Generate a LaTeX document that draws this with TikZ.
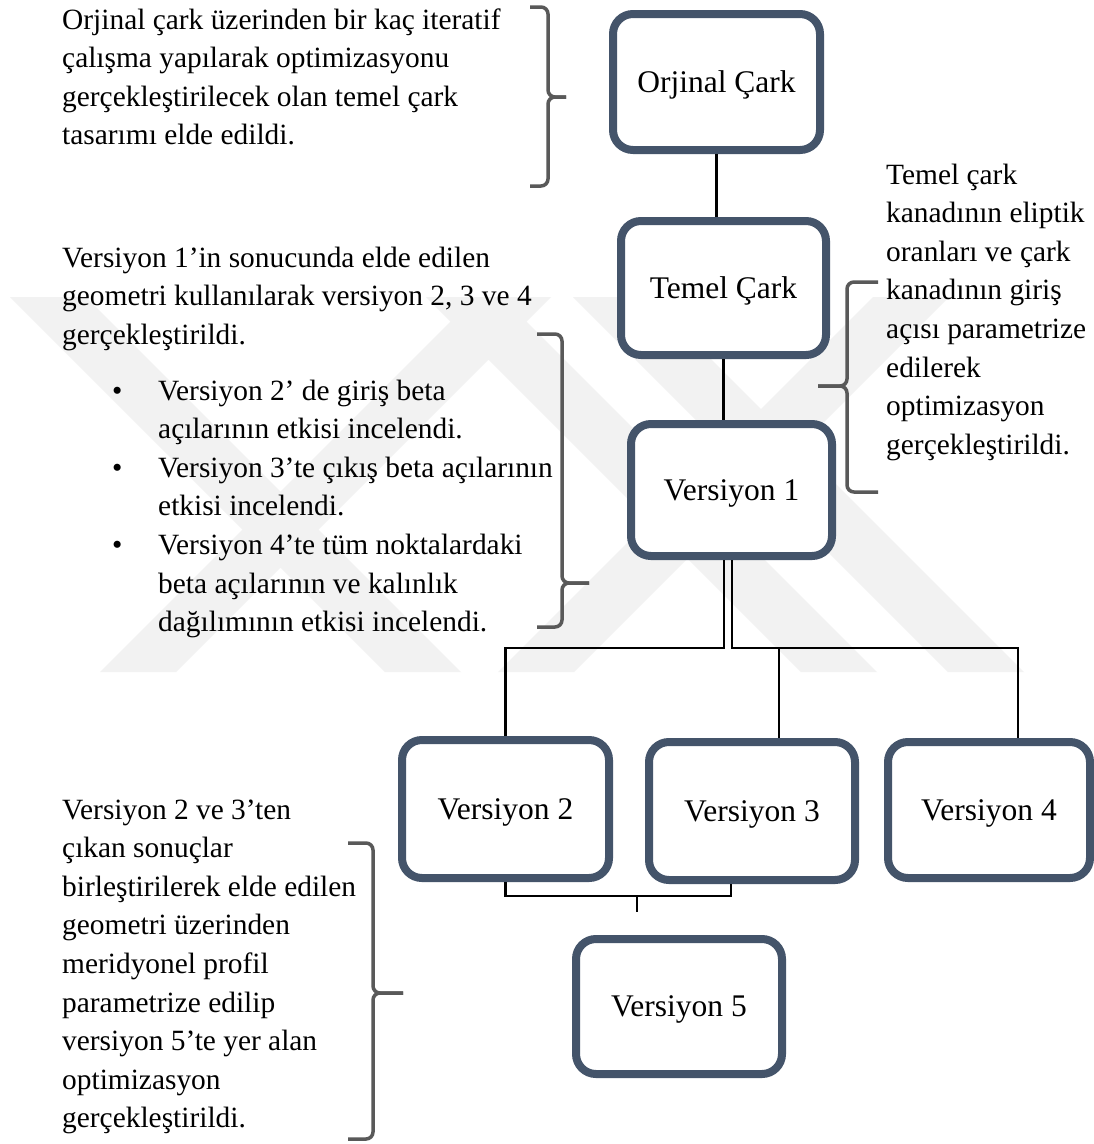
\documentclass[tikz,border=0pt]{standalone}
\usepackage{fontspec}
\setmainfont{Liberation Serif}
\usepackage{tikz}
\usetikzlibrary{positioning}
\definecolor{boxblue}{HTML}{44546A}
\definecolor{bracegray}{HTML}{595959}
\newcommand*{\bul}{\makebox[46pt][l]{\textbullet}}
\newcommand*{\cont}{\hspace*{46pt}}
\newcommand*{\curly}[6]{%
    \draw [brace] (#1,#4) -- (#2,#4) -- (#2,#5) -- (#3,#5);
    \draw [brace] (#1,#6) -- (#2,#6) -- (#2,#5) -- (#3,#5);}
\tikzstyle{block} = [draw=boxblue, line width=8pt, rectangle, rounded corners=20pt, fill=white, inner sep=0pt, text height=26pt, text depth=6pt, font=\fontsize{31.5}{36}\selectfont]
\tikzstyle{note} = [inner sep=0pt, align=left, anchor=base west, font=\fontsize{29.4}{38.6}\selectfont]
\tikzstyle{link} = [line width=2.4pt]
\tikzstyle{thin link} = [line width=1.2pt]
\tikzstyle{brace} = [draw=bracegray, line width=3.5pt, rounded corners=7pt]
\tikzstyle{watermark} = [fill=black!5]

\begin{document}
\begin{tikzpicture}[x=1pt, y=-1pt]
    \useasboundingbox (0,0) rectangle (1094,1144);
    \fill [white] (0,0) rectangle (1094,1144);

    % Watermark.
    \foreach \t in {10,426,573}
        \fill [watermark] (\t,297) -- ++(76,0) -- ++(375,375) -- ++(-76,0) -- cycle;
    \foreach \b in {100,498}
        \fill [watermark] (\b,672) -- ++(76,0) -- ++(375,-375) -- ++(-76,0) -- cycle;

    % Boxes.
    \node (orig) [block, minimum width=207pt, minimum height=136pt] at (716.5,82) {Orjinal Çark};
    \node (temel) [block, minimum width=205pt, minimum height=134pt] at (723.5,288) {Temel Çark};
    \node (v1) [block, minimum width=201pt, minimum height=132pt] at (731.5,490) {Versiyon 1};
    \node (v2) [block, minimum width=207pt, minimum height=138pt] at (505.5,809) {Versiyon 2};
    \node (v3) [block, minimum width=206pt, minimum height=138pt] at (752,811) {Versiyon 3};
    \node (v4) [block, minimum width=202pt, minimum height=136pt] at (989,810) {Versiyon 4};
    \node (v5) [block, minimum width=206pt, minimum height=135pt] at (679,1006.5) {Versiyon 5};

    \coordinate (split l) at (724,648);
    \coordinate (split r) at (732,648);
    \coordinate (v3 in) at (779,648);
    \coordinate (v4 in) at (1018,648);
    \coordinate (v3 out) at (731,896);
    \coordinate (join) at (637,896);
    \coordinate (stub) at (637,912);

    % Lines.
    \draw [link] (orig.south) -- (orig.south |- temel.north);
    \draw [link] (temel.south) -- (temel.south |- v1.north);
    \draw [link] (split l |- v1.south) -- (split l) -| (v2.north);
    \draw [thin link] (split r |- v1.south) -- (split r) -- (v4 in) -- (v4 in |- v4.north);
    \draw [thin link] (v3 in) -- (v3 in |- v3.north);
    \draw [link] (v2.south) |- (join) -- (stub);
    \draw [thin link] (v3 out |- v3.south) -- (v3 out) -- (join);

    % Braces.
    \curly{530}{548}{566}{7}{97}{186}
    \curly{878}{847}{818}{282}{386}{492}
    \curly{537}{562}{589}{334}{583}{627}
    \curly{348}{373}{403}{843}{993}{1139}

    % Notes (placed at the baseline of their last line).
    \node (design) [note] at (62,144.8) {Orjinal çark üzerinden bir kaç iteratif\\çalışma yapılarak optimizasyonu\\gerçekleştirilecek olan temel çark\\tasarımı elde edildi.};
    \node (versions) [note] at (62,344.2) {Versiyon 1’in sonucunda elde edilen\\geometri kullanılarak versiyon 2, 3 ve 4\\gerçekleştirildi.};
    \node (items) [note] at (112,631.6) {\bul Versiyon 2’ de giriş beta\\\cont açılarının etkisi incelendi.\\\bul Versiyon 3’te çıkış beta açılarının\\\cont etkisi incelendi.\\\bul Versiyon 4’te tüm noktalardaki\\\cont beta açılarının ve kalınlık\\\cont dağılımının etkisi incelendi.};
    \node (params) [note] at (886,454.2) {Temel çark\\kanadının eliptik\\oranları ve çark\\kanadının giriş\\açısı parametrize\\edilerek\\optimizasyon\\gerçekleştirildi.};
    \node (merge) [note] at (62,1127.8) {Versiyon 2 ve 3’ten\\çıkan sonuçlar\\birleştirilerek elde edilen\\geometri üzerinden\\meridyonel profil\\parametrize edilip\\versiyon 5’te yer alan\\optimizasyon\\gerçekleştirildi.};
\end{tikzpicture}
\end{document}
